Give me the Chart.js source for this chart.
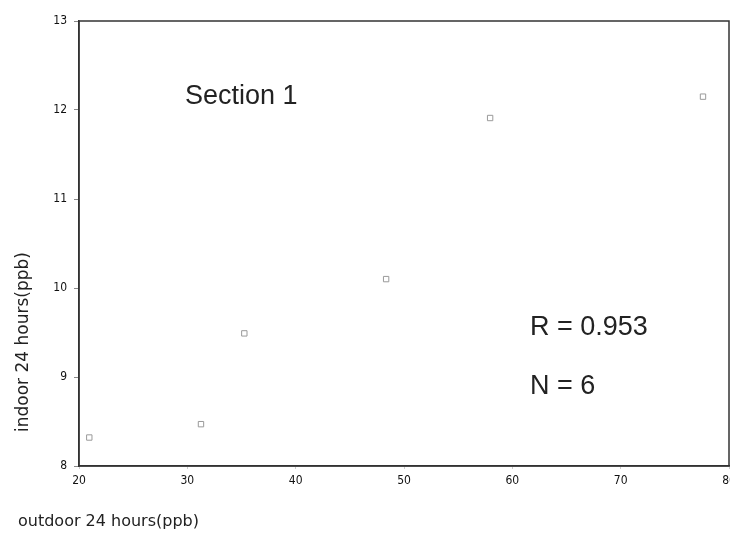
<!DOCTYPE html>
<html>
<head>
<meta charset="utf-8">
<script src="https://cdn.jsdelivr.net/npm/chart.js@4"></script>
<style>
  html, body { margin: 0; padding: 0; background: #fff; overflow: hidden; }
  #wrap { width: 734px; height: 537px; }
</style>
</head>
<body>
<div id="wrap"><canvas id="scatterChart"></canvas></div>
<script>
// outdoor vs indoor 24 hour readings, section 1
const outdoor = [20.95, 31.26, 35.26, 48.35, 57.95, 77.6];
const indoor = [8.32, 8.47, 9.49, 10.10, 11.91, 12.15];
const xTicks = [20, 30, 40, 50, 60, 70, 80];
const yTicks = [8, 9, 10, 11, 12, 13];
const notes = ['Section 1', 'R = 0.953', 'N = 6'];

const points = outdoor.map((x, i) => ({ x: x, y: indoor[i] }));

// frame around the plot plus the free-standing texts
const extras = {
    id: 'extras',
    afterDraw(chart) {
        const c = chart.ctx;
        const a = chart.chartArea;
        c.save();
        c.strokeStyle = '#333';
        c.lineWidth = 1.5;
        c.strokeRect(a.left, a.top, a.right - a.left, a.bottom - a.top);

        c.fillStyle = '#222';
        c.font = '27px "Liberation Sans", Arial, sans-serif';
        c.textBaseline = 'alphabetic';
        c.fillText(notes[0], 185, 104);
        c.fillText(notes[1], 530, 335);
        c.fillText(notes[2], 530, 394);

        c.font = '16px "DejaVu Sans", Verdana, sans-serif';
        c.fillText('outdoor 24 hours(ppb)', 18, 526);

        c.font = '17px "DejaVu Sans", Verdana, sans-serif';
        c.translate(28, 342);
        c.rotate(-Math.PI / 2);
        c.textAlign = 'center';
        c.fillText('indoor 24 hours(ppb)', 0, 0);
        c.restore();
    }
};

document.addEventListener('DOMContentLoaded', function () {
    const ctx = document.getElementById('scatterChart').getContext('2d');
    new Chart(ctx, {
        type: 'scatter',
        data: {
            datasets: [{
                label: 'indoor',
                data: points,
                pointStyle: 'rect',
                pointRadius: 3.8,
                borderWidth: 1,
                borderColor: '#9a9a9a',
                backgroundColor: 'rgba(0,0,0,0)'
            }]
        },
        options: {
            responsive: true,
            maintainAspectRatio: false,
            animation: false,
            layout: { padding: { left: 0, top: 21, right: 1, bottom: 0 } },
            plugins: {
                legend: { display: false },
                tooltip: { enabled: false }
            },
            scales: {
                x: {
                    type: 'linear',
                    min: 20,
                    max: 80,
                    afterBuildTicks: s => { s.ticks = xTicks.map(v => ({ value: v })); },
                    afterFit: s => { s.height = 71; s.paddingLeft = 0; s.paddingRight = 0; },
                    grid: { drawOnChartArea: false, drawTicks: true, tickLength: 3, color: '#ccc' },
                    border: { display: true, color: '#333', width: 1.5 },
                    ticks: {
                        color: '#111',
                        padding: 5,
                        maxRotation: 0,
                        font: { family: '"DejaVu Sans Condensed", "DejaVu Sans", sans-serif', size: 12 }
                    }
                },
                y: {
                    type: 'linear',
                    min: 8,
                    max: 13,
                    afterBuildTicks: s => { s.ticks = yTicks.map(v => ({ value: v })); },
                    afterFit: s => { s.width = 79; },
                    grid: { drawOnChartArea: false, drawTicks: true, tickLength: 5, color: '#888' },
                    border: { display: true, color: '#333', width: 1.5 },
                    ticks: {
                        color: '#111',
                        padding: 7,
                        font: { family: '"DejaVu Sans Condensed", "DejaVu Sans", sans-serif', size: 12 }
                    }
                }
            }
        },
        plugins: [extras]
    });
});
</script>
</body>
</html>
